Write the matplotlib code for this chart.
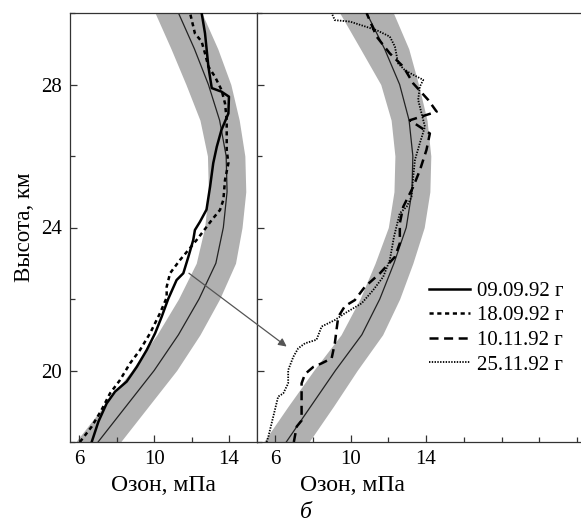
import numpy as np
import matplotlib as mpl
mpl.use("Agg")
import matplotlib.pyplot as plt
from matplotlib.ticker import MultipleLocator

mpl.rcParams.update({
    "font.family": ["Liberation Serif", "DejaVu Serif"],
    "lines.scale_dashes": False,
    "axes.linewidth": 0.9,
    "axes.edgecolor": "#333333",
})

# climatology: mean profile and spread (height grid in km)
alt = [18, 19, 20, 21, 22, 23, 24, 25, 26, 27, 28, 29, 30]
sep_mean = [7.0, 8.5, 10.0, 11.3, 12.4, 13.3, 13.7, 13.9, 13.85, 13.5, 12.9, 12.15, 11.3]
sep_std = [1.2, 1.2, 1.2, 1.15, 1.1, 1.05, 1.0, 1.0, 1.0, 1.05, 1.2, 1.25, 1.25]
nov_mean = [6.6, 7.9, 9.2, 10.6, 11.55, 12.3, 12.95, 13.25, 13.3, 13.1, 12.6, 11.8, 10.85]
nov_std = [1.2, 1.2, 1.15, 1.1, 1.05, 1.0, 0.95, 0.95, 0.95, 0.95, 1.0, 1.28, 1.42]

# soundings: ozone (mPa) vs altitude (km)
o3_0909 = [6.66, 7.02, 7.46, 7.91, 8.53, 9.07, 9.6, 10.05, 10.4, 10.75, 11.2, 11.56, 11.83,
           12.09, 12.18, 12.45, 12.8, 12.99, 13.16, 13.35, 13.6, 13.97, 14.0, 13.6, 13.08,
           12.9, 12.72, 12.54]
h_0909 = [18.0, 18.57, 19.08, 19.41, 19.69, 20.1, 20.57, 21.04, 21.5, 22.0, 22.53, 22.72, 23.18,
          23.65, 23.93, 24.16, 24.5, 25.14, 25.8, 26.26, 26.73, 27.19, 27.66, 27.8, 27.9,
          28.5, 29.43, 30.0]

o3_1809 = [6.03, 6.66, 7.19, 7.64, 8.17, 8.71, 9.24, 9.78, 10.31, 10.67, 10.67, 10.85, 11.38,
           11.83, 12.27, 12.81, 13.08, 13.52, 13.7, 13.79, 13.97, 13.88, 13.88, 13.88, 13.79,
           13.6, 13.25, 12.9, 12.72, 12.54, 12.18, 11.92]
h_1809 = [18.0, 18.43, 18.9, 19.36, 19.73, 20.2, 20.57, 21.04, 21.6, 22.04, 22.34, 22.72, 23.09,
          23.37, 23.65, 24.02, 24.21, 24.49, 24.77, 25.33, 25.8, 26.17, 26.36, 27.0, 27.47,
          27.85, 28.22, 28.5, 28.87, 29.2, 29.43, 30.0]

o3_1011 = [7.0, 7.15, 7.41, 7.41, 7.41, 7.59, 8.03, 8.47, 9.0, 9.17, 9.26, 9.35, 9.7, 10.23,
           10.76, 11.56, 12.35, 12.61, 12.61, 12.79, 13.32, 13.67, 14.02, 14.2, 13.14, 14.56,
           14.11, 13.32, 12.79, 12.08, 11.38, 10.85]
h_1011 = [18.0, 18.43, 18.6, 19.07, 19.64, 19.9, 20.1, 20.2, 20.34, 20.76, 21.14, 21.5, 21.8,
          21.97, 22.34, 22.72, 23.18, 23.56, 24.12, 24.58, 25.14, 25.6, 26.17, 26.63, 27.0,
          27.24, 27.57, 28.03, 28.5, 28.87, 29.34, 30.0]

o3_2511 = [5.56, 5.65, 5.91, 6.17, 6.44, 6.7, 6.7, 6.97, 7.23, 7.59, 8.2, 8.47, 9.17, 9.7,
           10.59, 11.2, 11.73, 12.08, 12.3, 12.61, 12.97, 13.23, 13.32, 13.41, 13.67, 13.94,
           13.76, 13.58, 13.67, 13.85, 13.32, 12.88, 12.52, 12.35, 12.08, 11.38, 9.97, 9.17, 9.0]
h_2511 = [18.0, 18.15, 18.71, 19.27, 19.36, 19.64, 20.01, 20.38, 20.62, 20.76, 20.86, 21.23,
          21.41, 21.6, 21.88, 22.25, 22.62, 23.09, 23.74, 24.4, 24.58, 24.86, 25.42, 25.89,
          26.36, 26.82, 27.19, 27.57, 27.94, 28.13, 28.27, 28.4, 28.59, 29.06, 29.34, 29.52,
          29.76, 29.8, 30.0]

band_color = "#b0b0b0"
styles = {
    "09.09.92 г": dict(ls="-", lw=1.8),
    "18.09.92 г": dict(ls=(0, (3.0, 2.6)), lw=1.8),
    "10.11.92 г": dict(ls=(0, (6.5, 4.0)), lw=1.8),
    "25.11.92 г": dict(ls=(0, (1.0, 1.0)), lw=1.3),
}

fig = plt.figure(figsize=(5.81, 5.24), dpi=100)
ax1 = fig.add_axes([70 / 581, 82 / 524, 187 / 581, 429 / 524])
ax2 = fig.add_axes([257 / 581, 82 / 524, 324 / 581, 429 / 524])


def draw_clim(ax, mean, std):
    mean = np.array(mean)
    std = np.array(std)
    ax.fill_betweenx(alt, mean - std, mean + std, color=band_color, lw=0, zorder=1)
    ax.plot(mean, alt, color="#222222", lw=0.9, zorder=2)


draw_clim(ax1, sep_mean, sep_std)
draw_clim(ax2, nov_mean, nov_std)

handles = []
for ax, x, y, key in [(ax1, o3_0909, h_0909, "09.09.92 г"),
                      (ax1, o3_1809, h_1809, "18.09.92 г"),
                      (ax2, o3_1011, h_1011, "10.11.92 г"),
                      (ax2, o3_2511, h_2511, "25.11.92 г")]:
    ln, = ax.plot(x, y, color="black", zorder=3, label=key, **styles[key])
    handles.append(ln)

ax1.set_xlim(5.5, 15.5)
ax2.set_xlim(5.05, 22.2)
for ax in (ax1, ax2):
    ax.set_ylim(18, 30)
    ax.xaxis.set_major_locator(MultipleLocator(4))
    ax.xaxis.set_minor_locator(MultipleLocator(2))
    ax.yaxis.set_major_locator(MultipleLocator(4))
    ax.yaxis.set_minor_locator(MultipleLocator(2))
    ax.tick_params(which="both", direction="in", top=False, right=False,
                   labelsize=15, color="#333333", width=0.9)
    ax.tick_params(which="major", length=5, pad=6)
    ax.tick_params(which="minor", length=3.5)
    ax.set_xlabel("Озон, мПа", fontsize=17)

ax1.set_xticks([6, 10, 14])
ax2.set_xticks([6, 10, 14])
ax2.set_yticklabels([])
ax2.spines["right"].set_visible(False)
ax1.set_ylabel("Высота, км", fontsize=16.5, labelpad=4)
ax2.xaxis.set_label_coords(0.296, -0.078)
ax1.xaxis.set_label_coords(0.5, -0.078)

ax2.legend(handles=handles, loc="center left", bbox_to_anchor=(0.53, 0.266),
           frameon=False, fontsize=15, handlelength=2.0, handletextpad=0.3,
           labelspacing=0.24, borderpad=0, borderaxespad=0)

# arrow from the September profile to the November one
ax2.annotate("", xy=(6.62, 20.67), xycoords="data",
             xytext=(11.86, 22.72), textcoords=ax1.transData,
             arrowprops=dict(arrowstyle="-|>", color="#555555", lw=0.9,
                             mutation_scale=12, shrinkA=0, shrinkB=0),
             annotation_clip=False, zorder=5)

fig.text(306 / 581, 1 - 512 / 524, "б", fontsize=17, style="italic",
         ha="center", va="center")

fig.savefig("out.png", dpi=100)
